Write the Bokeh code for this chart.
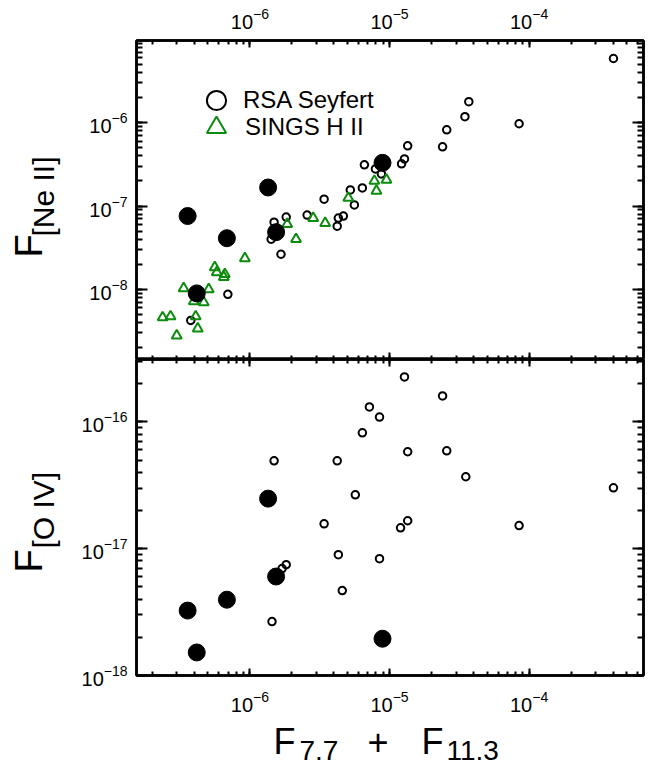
from bokeh.plotting import figure
from bokeh.models import LogAxis, Legend, LegendItem, LogTicker, Range1d
from bokeh.core.properties import value
from bokeh.layouts import column, row
from bokeh.embed import file_html
from bokeh.resources import INLINE

# ---------------- data ----------------
# RSA Seyferts, top panel: F(7.7)+F(11.3) vs F[Ne II]
sey_x_ne = [4.02e-4, 3.70e-5, 3.47e-5, 8.48e-5, 2.57e-5, 2.40e-5, 1.35e-5, 1.28e-5,
            1.22e-5, 6.61e-6, 7.93e-6, 8.75e-6, 6.39e-6, 5.24e-6, 3.40e-6, 5.60e-6,
            4.67e-6, 4.30e-6, 4.22e-6, 2.57e-6, 1.82e-6, 1.49e-6, 1.42e-6, 1.67e-6,
            6.95e-7, 3.77e-7]
sey_y_ne = [5.90e-6, 1.79e-6, 1.18e-6, 9.72e-7, 8.23e-7, 5.14e-7, 5.28e-7, 3.68e-7,
            3.21e-7, 3.12e-7, 2.79e-7, 2.43e-7, 1.65e-7, 1.56e-7, 1.21e-7, 1.03e-7,
            7.59e-8, 7.17e-8, 5.74e-8, 7.79e-8, 7.37e-8, 6.41e-8, 4.00e-8, 2.64e-8,
            8.71e-9, 4.24e-9]
# SINGS H II galaxies, top panel
hii_x = [7.79e-6, 9.51e-6, 8.06e-6, 5.07e-6, 2.84e-6, 3.46e-6, 1.85e-6, 2.14e-6,
         9.20e-7, 5.60e-7, 5.79e-7, 6.61e-7, 6.50e-7, 3.35e-7, 5.07e-7, 3.96e-7,
         4.67e-7, 2.37e-7, 2.70e-7, 4.09e-7, 4.23e-7, 2.99e-7]
hii_y = [2.00e-7, 2.06e-7, 1.52e-7, 1.25e-7, 7.17e-8, 6.24e-8, 6.07e-8, 4.00e-8,
         2.36e-8, 1.84e-8, 1.60e-8, 1.52e-8, 1.40e-8, 1.03e-8, 1.00e-8, 7.16e-9,
         6.97e-9, 4.60e-9, 4.73e-9, 4.73e-9, 3.39e-9, 2.79e-9]
# highlighted objects (filled circles), both panels
sel_x = [8.91e-6, 1.35e-6, 3.58e-7, 6.84e-7, 1.54e-6, 4.16e-7]
sel_y_ne = [3.30e-7, 1.67e-7, 7.59e-8, 4.11e-8, 4.86e-8, 8.95e-9]
sel_y_o4 = [1.95e-18, 2.48e-17, 3.25e-18, 3.96e-18, 6.03e-18, 1.52e-18]
# RSA Seyferts, bottom panel: F(7.7)+F(11.3) vs F[O IV]
sey_x_o4 = [1.28e-5, 2.40e-5, 7.18e-6, 8.48e-6, 6.39e-6, 1.35e-5, 2.57e-5, 1.49e-6,
            4.22e-6, 3.52e-5, 4.02e-4, 5.69e-6, 3.40e-6, 1.35e-5, 1.20e-5, 8.48e-5,
            4.30e-6, 8.48e-6, 1.82e-6, 1.70e-6, 4.59e-6, 1.44e-6]
sey_y_o4 = [2.26e-16, 1.60e-16, 1.31e-16, 1.09e-16, 8.19e-17, 5.81e-17, 5.91e-17, 4.93e-17,
            4.93e-17, 3.69e-17, 3.02e-17, 2.66e-17, 1.57e-17, 1.66e-17, 1.46e-17, 1.52e-17,
            8.97e-18, 8.34e-18, 7.48e-18, 6.96e-18, 4.67e-18, 2.66e-18]

legend_labels = ["RSA Seyfert", "SINGS H II"]
y_title_main = ["F", "F"]
y_title_sub = ["[Ne II]", "[O IV]"]
x_title_parts = ["F", "7.7", "+", "F", "11.3"]

X_RANGE = (1.54e-7, 6.6e-4)
Y_RANGE_NE = (1.44e-9, 9.7e-6)
Y_RANGE_O4 = (1.0e-18, 3.1e-16)

FONT = "Liberation Sans"
GREEN = "#0c8c0c"
MAIN_W = 586
LEFT_W = 64


def style_axis(ax, show_labels, tick_major, tick_minor, standoff=9):
    ax.ticker = LogTicker(num_minor_ticks=10)
    ax.major_tick_in = tick_major
    ax.major_tick_out = 0
    ax.minor_tick_in = tick_minor
    ax.minor_tick_out = 0
    ax.major_tick_line_width = 2
    ax.minor_tick_line_width = 2
    ax.major_tick_line_color = "black"
    ax.minor_tick_line_color = "black"
    ax.axis_line_width = 2.5
    ax.axis_line_color = "black"
    if show_labels:
        ax.major_label_text_font = FONT
        ax.major_label_text_font_size = "20px"
        ax.major_label_text_color = "black"
        ax.major_label_standoff = standoff
    else:
        ax.major_label_text_font_size = "1px"
        ax.major_label_text_alpha = 0
        ax.major_label_standoff = 0


def make_panel(height, y_range, border_top, border_bottom, labels_above, labels_below):
    p = figure(width=MAIN_W, height=height, x_axis_type="log", y_axis_type="log",
               x_range=Range1d(*X_RANGE), y_range=Range1d(*y_range),
               output_backend="svg", toolbar_location=None,
               min_border_left=72, min_border_right=7,
               min_border_top=border_top, min_border_bottom=border_bottom)
    p.grid.visible = False
    p.outline_line_color = "black"
    p.outline_line_width = 2.5
    p.add_layout(LogAxis(), "above")
    p.add_layout(LogAxis(), "right")
    style_axis(p.below[0], labels_below, 7, 4, 15)
    style_axis(p.above[0], labels_above, 7, 4, 12)
    style_axis(p.left[0], True, 11, 6, 9)
    style_axis(p.right[0], False, 11, 6)
    return p


top = make_panel(359, Y_RANGE_NE, 40, 0, True, False)
bot = make_panel(360, Y_RANGE_O4, 0, 44, False, True)

# top panel marks
r_sey = top.scatter(sey_x_ne, sey_y_ne, marker="circle", size=7.5, fill_color=None,
                    line_color="black", line_width=2)
r_hii = top.scatter(hii_x, hii_y, marker="triangle", size=10, fill_color=None,
                    line_color=GREEN, line_width=2)
top.scatter(sel_x, sel_y_ne, marker="circle", size=17, fill_color="black",
            line_color="black")

# bottom panel marks
bot.scatter(sey_x_o4, sey_y_o4, marker="circle", size=7.5, fill_color=None,
            line_color="black", line_width=2)
bot.scatter(sel_x, sel_y_o4, marker="circle", size=17, fill_color="black",
            line_color="black")

# legend (two single-item legends to control row spacing)
for lab, rend, loc, standoff in [(legend_labels[0], r_sey, (56, 235), 3),
                                 (legend_labels[1], r_hii, (56, 208), 5)]:
    lg = Legend(items=[LegendItem(label=lab, renderers=[rend])], location=loc,
                glyph_width=48, glyph_height=48, padding=2, margin=0,
                label_standoff=standoff, label_text_font=FONT,
                label_text_font_size="24px", label_text_color="black",
                border_line_color=None, background_fill_alpha=0)
    top.add_layout(lg)

# ---- y-axis titles: a narrow text-only canvas on the left (pixel coordinates) ----
ylab = figure(width=LEFT_W, height=765, x_range=Range1d(0, LEFT_W), y_range=Range1d(0, 765),
              output_backend="svg", toolbar_location=None,
              x_axis_location=None, y_axis_location=None, min_border=0)
ylab.grid.visible = False
ylab.outline_line_color = None
ylab.text(x=[28, 28], y=[508, 193], text=y_title_main, angle=1.5708,
          text_font=value(FONT), text_font_size="38px",
          text_align="left", text_baseline="alphabetic", text_color="black")
ylab.text(x=[43, 43], y=[529, 217], text=y_title_sub, angle=1.5708,
          text_font=value(FONT), text_font_size="30px",
          text_align="left", text_baseline="alphabetic", text_color="black")

# ---- x-axis title: a short text-only canvas below the bottom panel ----
# (its frame is aligned with the panels' frames, so x is in page pixels 136..643)
xlab = figure(width=MAIN_W, height=46, x_range=Range1d(136, 643), y_range=Range1d(0, 46),
              output_backend="svg", toolbar_location=None,
              x_axis_location=None, y_axis_location=None, min_border=0)
xlab.grid.visible = False
xlab.outline_line_color = None
xlab.text(x=[273, 367, 421], y=[24, 24, 24], text=[x_title_parts[0], x_title_parts[2],
                                                     x_title_parts[3]],
          text_font=value(FONT), text_font_size="36px",
          text_align="left", text_baseline="alphabetic", text_color="black")
xlab.text(x=[299, 446], y=[15, 15], text=[x_title_parts[1], x_title_parts[4]],
          text_font=value(FONT), text_font_size="28px",
          text_align="left", text_baseline="alphabetic", text_color="black")

layout = row(ylab, column(top, bot, xlab, spacing=0), spacing=0)
open("out.html", "w").write(file_html(layout, INLINE))
